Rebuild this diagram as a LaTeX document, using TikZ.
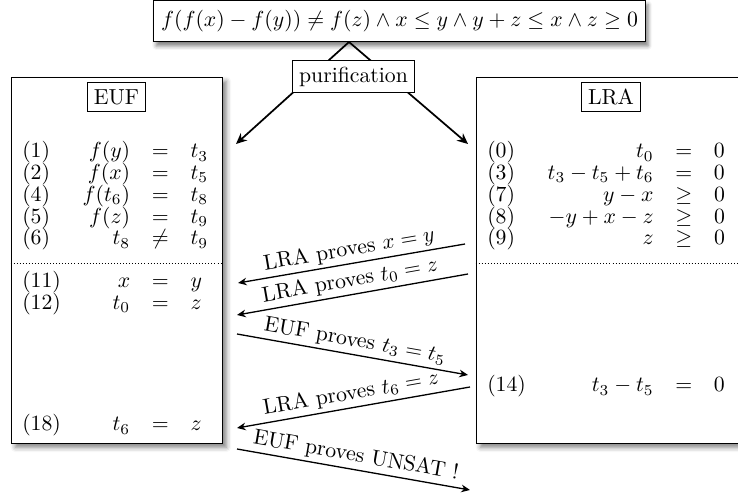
\documentclass[tikz,border=0pt]{standalone}
\usepackage{amsmath,amssymb}
\usepackage{tikz}
\usetikzlibrary{arrows.meta,fit,shadows.blur}
\renewcommand{\arraystretch}{0.5}

\begin{document}
\begin{tikzpicture}[
    x=0.46pt, y=-0.46pt,
    formulabox/.style={
        rectangle,
        draw,
        fill=white,
        inner xsep=3.5pt,
        inner ysep=4.5pt,
        blur shadow={shadow xshift=1.2pt, shadow yshift=-2pt, shadow blur radius=1.8pt, shadow opacity=50}
    },
    theorybox/.style={
        rectangle,
        draw,
        fill=white,
        inner sep=0pt,
        blur shadow={shadow xshift=2pt, shadow yshift=-2pt, shadow blur radius=2.2pt, shadow opacity=50}
    },
    titlebox/.style={
        rectangle,
        draw,
        inner sep=3pt
    },
    stepbox/.style={
        rectangle,
        draw,
        fill=white,
        inner sep=3pt
    },
    eqtable/.style={
        anchor=base west,
        inner sep=0pt
    },
    splitarrow/.style={
        -{Stealth[length=5pt, width=4.5pt]},
        thick
    },
    proofarrow/.style={
        -{Stealth[length=4pt, width=3.5pt]},
        semithick
    },
    prooflabel/.style={
        above,
        sloped,
        inner sep=1.5pt
    }
]

\useasboundingbox (0,0) rectangle (738,501);

% =========================
% Input formula
% =========================

\node[formulabox] (formula) at (399.5,21)
{$f(f(x)-f(y))\neq f(z)\wedge x\leq y\wedge y+z\leq x\wedge z\geq 0$};

% =========================
% Theory solvers
% =========================

\node[theorybox, fit={(11,77) (222,443)}] (euf) {};
\node[theorybox, fit={(476,77) (746,443)}] (lra) {};

\node[titlebox] (euftitle) at (euf.north |- 0,97) {EUF};
\node[titlebox] (lratitle) at (lra.north |- 0,97) {LRA};

\draw[densely dotted] (euf.west |- 0,263) -- (euf.east |- 0,263);
\draw[densely dotted] (lra.west |- 0,263) -- (lra.east |- 0,263);

\node[eqtable] (eufeqs) at (11,158)
{$\begin{array}[t]{lrcl}
(1) & f(y) & = & t_3\\
(2) & f(x) & = & t_5\\
(4) & f(t_6) & = & t_8\\
(5) & f(z) & = & t_9\\
(6) & t_8 & \neq & t_9\\[10.5pt]
(11) & x & = & y\\
(12) & t_0 & = & z\\[46.4pt]
(18) & t_6 & = & z
\end{array}$};

\node[eqtable] (lraeqs) at (476,158)
{$\begin{array}[t]{lrcl}
(0) & t_0 & = & 0\\
(3) & t_3-t_5+t_6 & = & 0\\
(7) & y-x & \geq & 0\\
(8) & -y+x-z & \geq & 0\\
(9) & z & \geq & 0\\[58.3pt]
(14) & t_3-t_5 & = & 0
\end{array}$};

% =========================
% Purification
% =========================

\coordinate (split) at (349,42);
\coordinate (eufin) at (236,144);
\coordinate (lrain) at (468,144);

\draw[splitarrow] (split) -- (eufin);
\draw[splitarrow] (split) -- (lrain);

\node[stepbox] (purify) at (353.5,76.5) {purification};

% =========================
% Exchanged equalities
% =========================

\coordinate (lraout1) at (465,244);
\coordinate (eufin1) at (238,283);
\coordinate (lraout2) at (468,274);
\coordinate (eufin2) at (237,315);
\coordinate (eufout3) at (237,334);
\coordinate (lrain3) at (468,375);
\coordinate (lraout4) at (470,387);
\coordinate (eufin4) at (237,428);
\coordinate (eufout5) at (237,449);
\coordinate (lrain5) at (470,490);

\draw[proofarrow] (lraout1) -- node[prooflabel] {LRA proves $x=y$} (eufin1);
\draw[proofarrow] (lraout2) -- node[prooflabel] {LRA proves $t_0=z$} (eufin2);
\draw[proofarrow] (eufout3) -- node[prooflabel] {EUF proves $t_3=t_5$} (lrain3);
\draw[proofarrow] (lraout4) -- node[prooflabel] {LRA proves $t_6=z$} (eufin4);
\draw[proofarrow] (eufout5) -- node[prooflabel] {EUF proves UNSAT !} (lrain5);

\end{tikzpicture}
\end{document}
